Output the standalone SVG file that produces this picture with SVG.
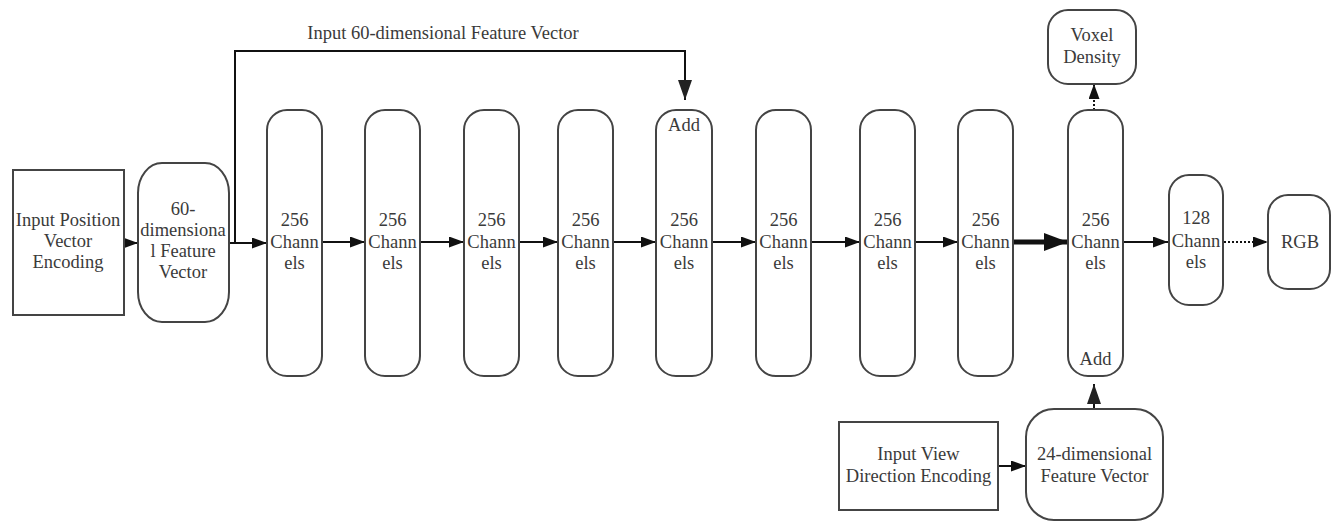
<svg xmlns="http://www.w3.org/2000/svg" width="1331" height="521" viewBox="0 0 1331 521">
  <defs>
    <marker id="arr" markerWidth="15" markerHeight="11" refX="15" refY="5.5" orient="auto" markerUnits="userSpaceOnUse">
      <path d="M0,0 L15,5.5 L0,11 Z" fill="#111"/>
    </marker>
    <marker id="arrBig" markerWidth="24" markerHeight="18" refX="24" refY="9" orient="auto" markerUnits="userSpaceOnUse">
      <path d="M0,0 L24,9 L0,18 Z" fill="#111"/>
    </marker>
    <marker id="arrV" markerWidth="20" markerHeight="14" refX="20" refY="7" orient="auto" markerUnits="userSpaceOnUse">
      <path d="M0,0 L20,7 L0,14 Z" fill="#222"/>
    </marker>
  </defs>
  <style>
    .box { fill: #fff; stroke: #444; stroke-width: 2; }
    .t { font-family: "Liberation Serif", "DejaVu Serif", serif; font-size: 18.5px; fill: #3a3a3a; text-anchor: middle; }
    .c { fill: none; stroke: #111; stroke-width: 2; }
    .thick { fill: none; stroke: #111; stroke-width: 5; }
    .dot { fill: none; stroke: #111; stroke-width: 2; stroke-dasharray: 2 2; }
  </style>
  <rect width="1331" height="521" fill="#fff"/>

  <!-- connectors -->
  <g id="connectors">
    <line class="c" x1="124" y1="243" x2="138" y2="243" marker-end="url(#arr)"/>
    <line class="c" x1="229" y1="243" x2="267" y2="243" marker-end="url(#arr)"/>
    <polyline class="c" points="229,243 235,243 235,51 685,51 685,100" marker-end="url(#arrV)"/>
    <line class="c" x1="322" y1="242" x2="365" y2="242" marker-end="url(#arr)"/>
    <line class="c" x1="420" y1="242" x2="464" y2="242" marker-end="url(#arr)"/>
    <line class="c" x1="519" y1="242" x2="558" y2="242" marker-end="url(#arr)"/>
    <line class="c" x1="613" y1="242" x2="656" y2="242" marker-end="url(#arr)"/>
    <line class="c" x1="712" y1="242" x2="756" y2="242" marker-end="url(#arr)"/>
    <line class="c" x1="811" y1="242" x2="860" y2="242" marker-end="url(#arr)"/>
    <line class="c" x1="915" y1="242" x2="958" y2="242" marker-end="url(#arr)"/>
    <line class="thick" x1="1013" y1="242" x2="1068" y2="242" marker-end="url(#arrBig)"/>
    <line class="c" x1="1123" y1="242" x2="1168" y2="242" marker-end="url(#arr)"/>
    <line class="dot" x1="1224" y1="242" x2="1268" y2="242" marker-end="url(#arr)"/>
    <line class="dot" x1="1094" y1="110" x2="1094" y2="84" marker-end="url(#arr)"/>
    <line class="c" x1="1094" y1="409" x2="1094" y2="384" marker-end="url(#arrV)"/>
    <line class="c" x1="998" y1="466" x2="1026" y2="466" marker-end="url(#arr)"/>
  </g>
  <text class="t" x="443" y="39">Input 60-dimensional Feature Vector</text>

  <g id="input-position">
    <rect class="box" x="13" y="170" width="111" height="145"/>
    <text class="t" x="68" y="226">Input Position</text>
    <text class="t" x="68" y="247">Vector</text>
    <text class="t" x="68" y="268">Encoding</text>
  </g>

  <g id="feature-60">
    <rect class="box" x="138" y="163" width="91" height="159" rx="24" ry="30"/>
    <text class="t" x="183" y="215">60-</text>
    <text class="t" x="183" y="236">dimensiona</text>
    <text class="t" x="183" y="257">l Feature</text>
    <text class="t" x="183" y="278">Vector</text>
  </g>

  <g id="layer1">
    <rect class="box" x="267" y="110" width="55" height="266" rx="20"/>
    <text class="t" x="294.5" y="226">256</text>
    <text class="t" x="294.5" y="248">Chann</text>
    <text class="t" x="294.5" y="269">els</text>
  </g>
  <g id="layer2">
    <rect class="box" x="365" y="110" width="55" height="266" rx="20"/>
    <text class="t" x="392.5" y="226">256</text>
    <text class="t" x="392.5" y="248">Chann</text>
    <text class="t" x="392.5" y="269">els</text>
  </g>
  <g id="layer3">
    <rect class="box" x="464" y="110" width="55" height="266" rx="20"/>
    <text class="t" x="491.5" y="226">256</text>
    <text class="t" x="491.5" y="248">Chann</text>
    <text class="t" x="491.5" y="269">els</text>
  </g>
  <g id="layer4">
    <rect class="box" x="558" y="110" width="55" height="266" rx="20"/>
    <text class="t" x="585.5" y="226">256</text>
    <text class="t" x="585.5" y="248">Chann</text>
    <text class="t" x="585.5" y="269">els</text>
  </g>
  <g id="layer5">
    <rect class="box" x="656" y="110" width="56" height="266" rx="20"/>
    <text class="t" x="684" y="131">Add</text>
    <text class="t" x="684" y="226">256</text>
    <text class="t" x="684" y="248">Chann</text>
    <text class="t" x="684" y="269">els</text>
  </g>
  <g id="layer6">
    <rect class="box" x="756" y="110" width="55" height="266" rx="20"/>
    <text class="t" x="783.5" y="226">256</text>
    <text class="t" x="783.5" y="248">Chann</text>
    <text class="t" x="783.5" y="269">els</text>
  </g>
  <g id="layer7">
    <rect class="box" x="860" y="110" width="55" height="266" rx="20"/>
    <text class="t" x="887.5" y="226">256</text>
    <text class="t" x="887.5" y="248">Chann</text>
    <text class="t" x="887.5" y="269">els</text>
  </g>
  <g id="layer8">
    <rect class="box" x="958" y="110" width="55" height="266" rx="20"/>
    <text class="t" x="985.5" y="226">256</text>
    <text class="t" x="985.5" y="248">Chann</text>
    <text class="t" x="985.5" y="269">els</text>
  </g>
  <g id="layer9">
    <rect class="box" x="1068" y="110" width="55" height="266" rx="20"/>
    <text class="t" x="1095.5" y="226">256</text>
    <text class="t" x="1095.5" y="248">Chann</text>
    <text class="t" x="1095.5" y="269">els</text>
    <text class="t" x="1095.5" y="365">Add</text>
  </g>

  <g id="voxel-density">
    <rect class="box" x="1048" y="10" width="88" height="74" rx="20"/>
    <text class="t" x="1092" y="41">Voxel</text>
    <text class="t" x="1092" y="63">Density</text>
  </g>

  <g id="layer128">
    <rect class="box" x="1169" y="175" width="54" height="130" rx="20"/>
    <text class="t" x="1196" y="224">128</text>
    <text class="t" x="1196" y="247">Chann</text>
    <text class="t" x="1196" y="268">els</text>
  </g>

  <g id="rgb">
    <rect class="box" x="1268" y="195" width="62" height="94" rx="20"/>
    <text class="t" x="1300" y="248">RGB</text>
  </g>

  <g id="input-view">
    <rect class="box" x="839" y="422" width="159" height="88"/>
    <text class="t" x="918.5" y="460">Input View</text>
    <text class="t" x="918.5" y="482">Direction Encoding</text>
  </g>

  <g id="feature-24">
    <rect class="box" x="1026" y="409" width="137" height="111" rx="28"/>
    <text class="t" x="1094.5" y="460">24-dimensional</text>
    <text class="t" x="1094.5" y="482">Feature Vector</text>
  </g>
</svg>
